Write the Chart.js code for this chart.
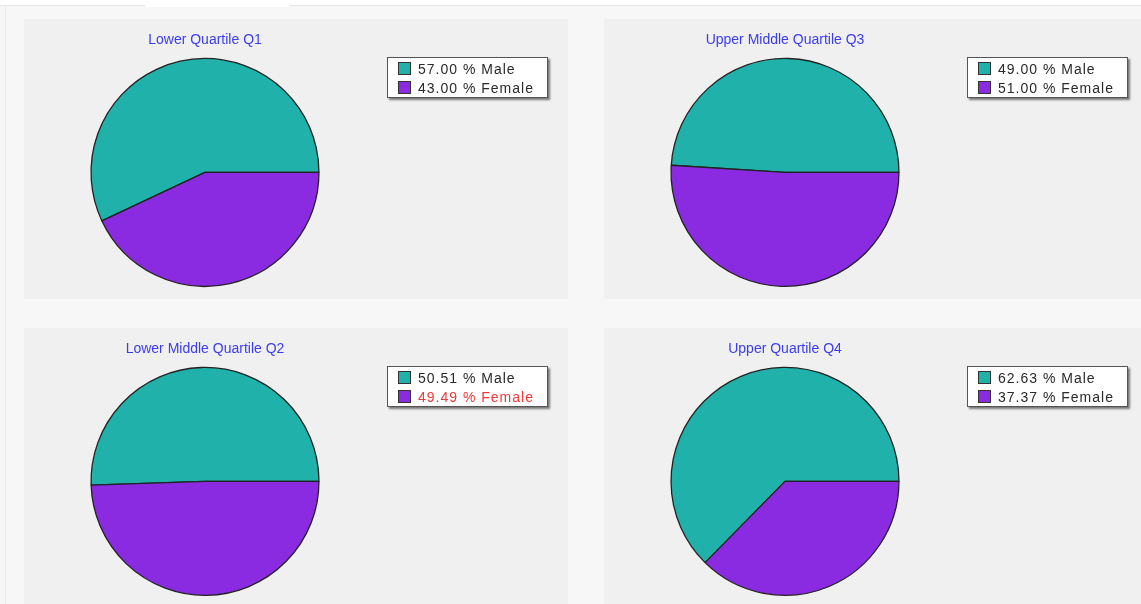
<!DOCTYPE html>
<html>
<head>
<meta charset="utf-8">
<script src="https://cdn.jsdelivr.net/npm/chart.js@4"></script>
<style>
  html, body { margin: 0; padding: 0; }
  body {
    width: 1141px; height: 604px; overflow: hidden; position: relative;
    background: #f7f7f7; font-family: "Liberation Sans", Arial, sans-serif;
  }
  .topbar { position: absolute; left: 0; top: 0; width: 1141px; height: 5px; background: #fff; border-bottom: 1px solid #e6e6e6; }
  .tab { position: absolute; left: 145px; top: 0; width: 145px; height: 7px; background: #fff; }
  .leftline { position: absolute; left: 5px; top: 6px; width: 1px; height: 598px; background: #ececec; }
  .panel { position: absolute; width: 544px; height: 280px; background: #f0f0f0; }
  .panel canvas { position: absolute; left: 0; top: 0; }
  .legend {
    position: absolute; left: 363px; top: 38px; width: 159px; height: 39px;
    background: #fff; border: 1px solid #555; box-shadow: 2px 2px 2px #777;
  }
  .item { position: absolute; left: 10px; height: 16px; font-size: 14px; letter-spacing: 1px; color: #2a2a2a; line-height: 16px; white-space: nowrap; }
  .item span.sw { display: inline-block; width: 11px; height: 11px; border: 1px solid #333; vertical-align: -1px; margin-right: 7px; }
</style>
</head>
<body>
<div class="topbar"></div>
<div class="tab"></div>
<div class="leftline"></div>

<script>
// Panel titles, in reading order
const titles = ['Lower Quartile Q1', 'Upper Middle Quartile Q3', 'Lower Middle Quartile Q2', 'Upper Quartile Q4'];
const seriesLabels = ['Male', 'Female'];
// Shares in percent
const maleShare = [57.00, 49.00, 50.51, 62.63];
const femaleShare = [43.00, 51.00, 49.49, 37.37];

const colors = ['rgb(32, 178, 170)', 'rgb(138, 43, 226)'];
const panelPos = [[24, 19], [604, 19], [24, 328], [604, 328]];

titles.forEach((title, i) => {
    const panel = document.createElement('div');
    panel.className = 'panel';
    panel.style.left = panelPos[i][0] + 'px';
    panel.style.top = panelPos[i][1] + 'px';
    if (i % 2 === 1) panel.style.width = '560px';

    const canvas = document.createElement('canvas');
    canvas.width = 544;
    canvas.height = 280;
    canvas.style.width = '544px';
    canvas.style.height = '280px';
    panel.appendChild(canvas);

    // Legend box
    const legend = document.createElement('div');
    legend.className = 'legend';
    const values = [maleShare[i], femaleShare[i]];
    seriesLabels.forEach((label, k) => {
        const row = document.createElement('div');
        row.className = 'item';
        row.style.top = (3 + k * 19) + 'px';
        const sw = document.createElement('span');
        sw.className = 'sw';
        sw.style.background = colors[k];
        row.appendChild(sw);
        row.appendChild(document.createTextNode(values[k].toFixed(2) + ' % ' + label));
        // Q2 female line is shown highlighted in red
        if (i === 2 && k === 1) row.style.color = '#f03a3a';
        legend.appendChild(row);
    });
    panel.appendChild(legend);
    document.body.appendChild(panel);

    // Male runs counterclockwise from 3 o'clock, so start where it must end
    const rotation = 90 - maleShare[i] / 100 * 360;

    new Chart(canvas.getContext('2d'), {
        type: 'pie',
        data: {
            labels: seriesLabels,
            datasets: [{
                data: values,
                backgroundColor: colors,
                borderColor: '#222',
                borderWidth: 1.3,
                hoverOffset: 0
            }]
        },
        options: {
            responsive: false,
            animation: false,
            rotation: rotation,
            layout: { padding: { left: 66, right: 248, top: 6, bottom: 12 } },
            events: [],
            plugins: {
                legend: { display: false },
                tooltip: { enabled: false },
                title: {
                    display: true,
                    text: title,
                    color: '#3c3cf0',
                    font: { family: '"Liberation Sans", Arial, sans-serif', size: 14, weight: 'normal' },
                    padding: { top: 7, bottom: 9 }
                }
            }
        }
    });
});
</script>
</body>
</html>
